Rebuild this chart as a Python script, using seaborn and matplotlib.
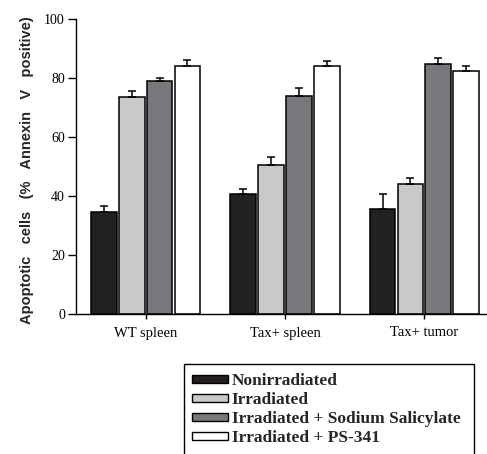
import matplotlib
matplotlib.use("Agg")
import matplotlib.pyplot as plt
import seaborn as sns
import pandas as pd
import numpy as np
from matplotlib.patches import Rectangle

categories = ["WT spleen", "Tax+ spleen", "Tax+ tumor"]
treatments = ["Nonirradiated", "Irradiated", "Irradiated + Sodium Salicylate", "Irradiated + PS-341"]
nonirradiated = [34.6, 40.6, 35.5]
irradiated = [73.5, 50.4, 44.1]
irr_salicylate = [79.0, 74.1, 84.7]
irr_ps341 = [84.3, 84.3, 82.6]
err_nonirradiated = [2.0, 1.7, 5.1]
err_irradiated = [2.3, 2.8, 2.2]
err_irr_salicylate = [1.2, 2.7, 2.3]
err_irr_ps341 = [1.9, 1.7, 1.5]
yticks = [0, 20, 40, 60, 80, 100]
colors = ["#231f20", "#c8c9ca", "#77787b", "#ffffff"]

values = [nonirradiated, irradiated, irr_salicylate, irr_ps341]
errors = [err_nonirradiated, err_irradiated, err_irr_salicylate, err_irr_ps341]
df = pd.DataFrame({
    "group": [c for _ in treatments for c in categories],
    "treatment": [t for t in treatments for _ in categories],
    "value": [v for vals in values for v in vals],
})

sns.set_style("ticks")
plt.rcParams["font.family"] = ["Liberation Serif", "DejaVu Serif"]

W, H = 487, 454
fig = plt.figure(figsize=(W / 100, H / 100), dpi=100)
ax = fig.add_axes([76 / W, 1 - 314 / H, (W - 76) / W, (314 - 19.3) / H])

sns.barplot(data=df, x="group", y="value", hue="treatment", order=categories,
            hue_order=treatments, palette=colors, width=0.8, gap=0.08,
            edgecolor="black", linewidth=1.1, errorbar=None, ax=ax, legend=False)

for cont, err in zip(ax.containers, errors):
    xs = [b.get_x() + b.get_width() / 2 for b in cont]
    ys = [b.get_height() for b in cont]
    ax.errorbar(xs, ys, yerr=[np.zeros(len(err)), err], fmt="none", ecolor="black",
                elinewidth=1.1, capsize=3.0, capthick=1.1, zorder=1)

ax.set_xlim(-0.5, 2.45)
ax.set_ylim(0, 100)
ax.set_yticks(yticks)
ax.set_xlabel("")
ax.set_ylabel("Apoptotic   cells   (%   Annexin   V   positive)", family=["Liberation Sans"],
              fontweight="bold", fontsize=10.5)
ax.yaxis.set_label_coords(-0.103, 0.489)
sns.despine(ax=ax)
for s in ["left", "bottom"]:
    ax.spines[s].set_linewidth(1.0)
    ax.spines[s].set_color("black")
ax.tick_params(axis="y", length=6, width=1.0, pad=2, labelsize=10, colors="black")
ax.tick_params(axis="x", length=3.5, width=1.0, pad=5.5, labelsize=10.5, colors="black")

handles = [Rectangle((0, 0), 1, 1, facecolor=c, edgecolor="black", linewidth=1.0) for c in colors]
fig.legend(handles, treatments, loc="upper left", bbox_to_anchor=(192 / W, 1 - 373 / H),
           frameon=False, prop={"family": "Liberation Serif", "weight": "bold", "size": 12.5},
           handlelength=2.1, handleheight=0.35, handletextpad=0.2, labelspacing=0.17,
           borderpad=0, borderaxespad=0)
fig.patches.append(Rectangle((184 / W, -0.05), (474 - 184) / W, 1 - 364 / H + 0.05,
                             transform=fig.transFigure, fill=False, edgecolor="black",
                             linewidth=1.0))

fig.savefig("out.png", dpi=100)
